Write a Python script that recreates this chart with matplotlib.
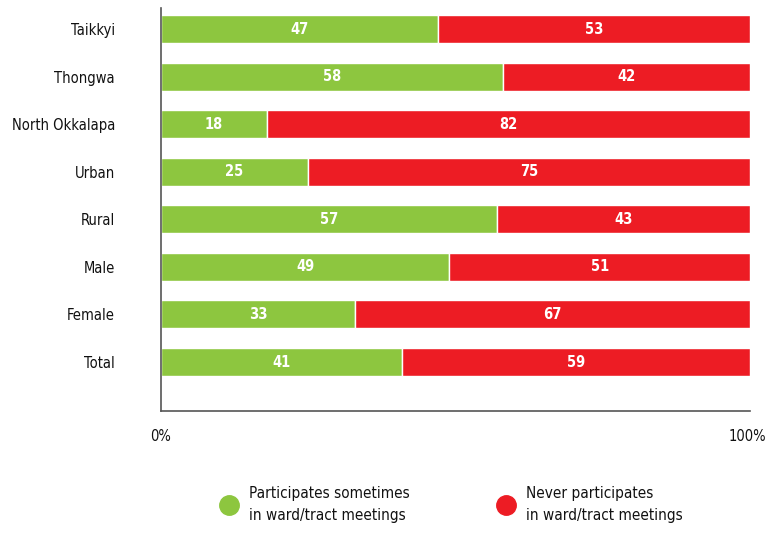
import matplotlib.pyplot as plt
import matplotlib.transforms as mtransforms
from matplotlib.lines import Line2D
import numpy as np

plt.rcParams['font.family'] = ['DejaVu Sans']
plt.rcParams['font.stretch'] = 'condensed'

# Data
categories = ["Taikkyi", "Thongwa", "North Okkalapa", "Urban", "Rural", "Male", "Female", "Total"]
participates = [47, 58, 18, 25, 57, 49, 33, 41]
never = [53, 42, 82, 75, 43, 51, 67, 59]
series_labels = ["Participates sometimes\nin ward/tract meetings",
                 "Never participates\nin ward/tract meetings"]

green = "#8dc63f"
red = "#ed1c24"

fig = plt.figure(figsize=(7.66, 5.44), dpi=100)
ax = fig.add_axes([0.210, 0.2445, 0.769, 0.7405])

y = np.arange(len(categories))[::-1]
participates = np.array(participates)
never = np.array(never)

ax.barh(y, participates, height=0.59, color=green, edgecolor="white", linewidth=1)
ax.barh(y, never, left=participates, height=0.59, color=red, edgecolor="white", linewidth=1)

for yi, p, n in zip(y, participates, never):
    ax.text(p / 2, yi, str(p), ha="center", va="center", color="white",
            fontsize=10.5, fontweight="bold")
    ax.text(p + n / 2, yi, str(n), ha="center", va="center", color="white",
            fontsize=10.5, fontweight="bold")

ax.set_xlim(0, 100)
ax.set_ylim(-1.03, 7.44)
ax.set_yticks(y)
ax.set_yticklabels(categories, fontsize=10.5, color="#111111")
ax.set_xticks([0, 100])
ax.set_xticklabels(["0%", "100%"], fontsize=10.5, color="#111111")
ax.tick_params(axis="both", length=0)
ax.tick_params(axis="y", pad=33)
ax.tick_params(axis="x", pad=13)
# keep "100%" inside the canvas
last = ax.get_xticklabels()[-1]
last.set_transform(last.get_transform() +
                   mtransforms.ScaledTranslation(-0.03, 0, fig.dpi_scale_trans))

for side in ["top", "right"]:
    ax.spines[side].set_visible(False)
for side in ["left", "bottom"]:
    ax.spines[side].set_color("#555555")
    ax.spines[side].set_linewidth(1.2)

handles = [Line2D([], [], marker="o", linestyle="none", markersize=14,
                  markerfacecolor=c, markeredgecolor=c) for c in (green, red)]
leg = fig.legend(handles, series_labels, loc="center", bbox_to_anchor=(0.585, 0.073),
                 ncol=2, frameon=False, fontsize=11, handletextpad=0.3,
                 columnspacing=5.3)
for t in leg.get_texts():
    t.set_linespacing(1.55)
    t.set_color("#111111")

fig.savefig("out.png", dpi=100)
